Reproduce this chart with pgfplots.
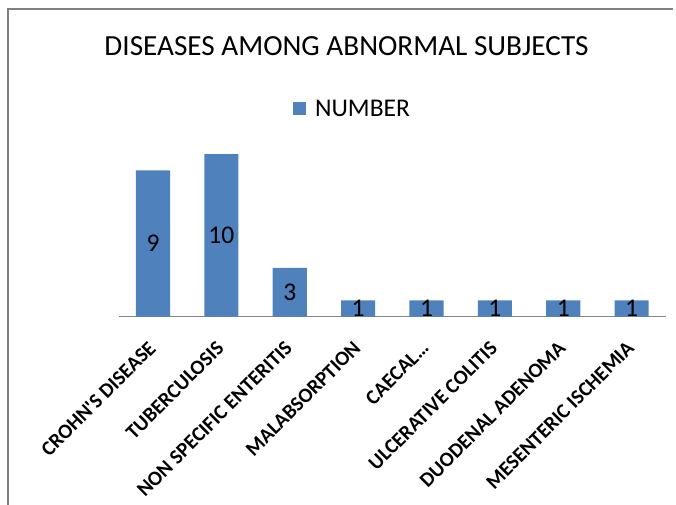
\documentclass[border=0pt]{standalone}
\usepackage{fontspec}
\setmainfont{Carlito}
\usepackage{pgfplots}
\pgfplotsset{compat=1.18}
\definecolor{barblue}{HTML}{4F81BD}
\definecolor{framegray}{HTML}{808080}
\definecolor{axisgray}{HTML}{868686}
\begin{document}
\begin{tikzpicture}[x=1bp,y=1bp]
\fill[framegray] (7.3,0) rectangle (9.3,496.7);
\fill[framegray] (7.3,494.7) rectangle (673,496.7);
\node[anchor=base, inner sep=0pt, font=\fontsize{29.2bp}{35bp}\selectfont] at (346.5,449) {DISEASES AMONG ABNORMAL SUBJECTS};
\begin{axis}[
  at={(118.8bp,188.3bp)}, anchor=south west,
  scale only axis, width=547bp, height=195.2bp,
  xmin=-0.5, xmax=7.5, ymin=0, ymax=12,
  axis x line*=bottom, hide y axis,
  x axis line style={axisgray, line width=1.4bp, -},
  /pgf/number format/assume math mode=true,
  xtick={0,...,7}, major tick length=0pt,
  xticklabels={CROHN\textquotesingle S DISEASE, TUBERCULOSIS, NON SPECIFIC ENTERITIS, MALABSORPTION, CAECAL…, ULCERATIVE COLITIS, DUODENAL ADENOMA, MESENTERIC ISCHEMIA},
  xticklabel style={xshift=-6bp, yshift=-23bp, rotate=45, anchor=north east, inner sep=0pt, font=\bfseries\fontsize{20.6bp}{24bp}\selectfont},
  ybar, bar width=34.2bp,
  legend style={at={(0.4254,1.069)}, anchor=center, draw=none, fill=none, inner sep=0pt, cells={anchor=center}, nodes={inner sep=0pt, text depth=0pt, font=\fontsize{25.5bp}{30bp}\selectfont}},
  legend image code/.code={\fill[barblue] (0bp,-6.5bp) rectangle (13bp,6.5bp); \path (22bp,0bp);},
]
\addplot[fill=barblue, draw=none,
  nodes near coords,
  visualization depends on={y \as \rawy},
  nodes near coords style={font=\fontsize{25.5bp}{30bp}\selectfont, text=black, anchor=center, inner sep=0pt, shift={(axis direction cs:0,-0.5*\rawy)}},
] coordinates {(0,9) (1,10) (2,3) (3,1) (4,1) (5,1) (6,1) (7,1)};
\addlegendentry{NUMBER}
\end{axis}
\pgfresetboundingbox
\path[use as bounding box] (0,0) rectangle (676,505);
\end{tikzpicture}
\end{document}
